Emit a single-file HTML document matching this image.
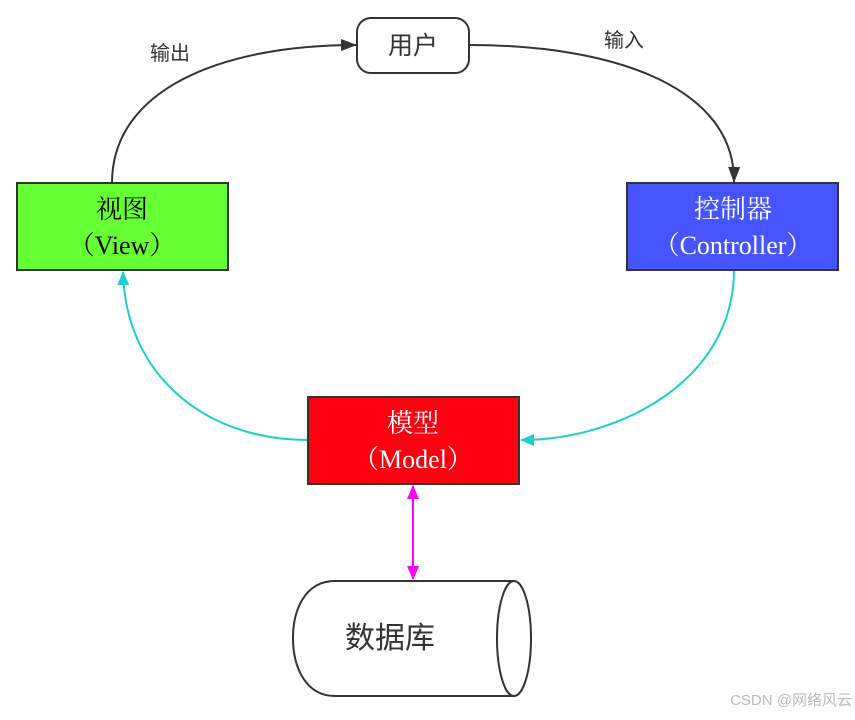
<!DOCTYPE html>
<html><head><meta charset="utf-8"><style>
body{margin:0;background:#fff;width:855px;height:715px;overflow:hidden}
text{font-family:"Liberation Sans","Noto Sans CJK SC",sans-serif}
.s{font-family:"Liberation Serif","Noto Serif CJK SC",serif}
</style></head><body>
<svg width="855" height="715" viewBox="0 0 855 715">
<defs>
<marker id="ab" markerWidth="16" markerHeight="12" refX="15" refY="6" orient="auto" markerUnits="userSpaceOnUse"><path d="M0,0 L16,6 L0,12 z" fill="#333"/></marker>
<marker id="ac" markerWidth="14" markerHeight="12" refX="13" refY="6" orient="auto" markerUnits="userSpaceOnUse"><path d="M0,0 L14,6 L0,12 z" fill="#1ccfcf"/></marker>
<marker id="am" markerWidth="14" markerHeight="12" refX="13" refY="6" orient="auto-start-reverse" markerUnits="userSpaceOnUse"><path d="M0,0 L14,6 L0,12 z" fill="#ff00ff"/></marker>
</defs>
<path d="M112,183 C112,90 220,45 356,45" fill="none" stroke="#333" stroke-width="2" marker-end="url(#ab)"/>
<path d="M469,45 C620,45 735,90 734,182" fill="none" stroke="#333" stroke-width="2" marker-end="url(#ab)"/>
<path d="M308,440 C200,440 125,370 123,272" fill="none" stroke="#1ccfcf" stroke-width="2" marker-end="url(#ac)"/>
<path d="M734,270 C734,380 620,440 521,440" fill="none" stroke="#1ccfcf" stroke-width="2" marker-end="url(#ac)"/>
<line x1="413" y1="486" x2="413" y2="579" stroke="#ff00ff" stroke-width="2" marker-start="url(#am)" marker-end="url(#am)"/>
<rect x="357" y="18" width="112" height="55" rx="14" fill="#fff" stroke="#333" stroke-width="2"/>
<text x="413" y="54" font-size="25" text-anchor="middle" fill="#333">用户</text>
<text x="170" y="60" font-size="20" text-anchor="middle" fill="#333">输出</text>
<text x="624" y="47" font-size="20" text-anchor="middle" fill="#333">输入</text>
<rect x="17" y="183" width="211" height="87" fill="#66ff33" stroke="#333" stroke-width="2"/>
<text x="122" y="218" font-size="26" text-anchor="middle" class="s" fill="#000">视图</text>
<text x="122" y="254" font-size="26" text-anchor="middle" class="s" fill="#000">（View）</text>
<rect x="627" y="183" width="211" height="87" fill="#4554ff" stroke="#333" stroke-width="2"/>
<text x="733" y="218" font-size="26" text-anchor="middle" class="s" fill="#fff">控制器</text>
<text x="733" y="254" font-size="26" text-anchor="middle" class="s" fill="#fff">（Controller）</text>
<rect x="308" y="397" width="211" height="87" fill="#ff0010" stroke="#333" stroke-width="2"/>
<text x="413" y="432" font-size="26" text-anchor="middle" class="s" fill="#fff">模型</text>
<text x="413" y="468" font-size="26" text-anchor="middle" class="s" fill="#fff">（Model）</text>
<path d="M515,581 L335,581 C305,581 293,610 293,638 C293,666 305,696 335,696 L515,696" fill="#fff" stroke="#333" stroke-width="2"/>
<ellipse cx="514" cy="638.5" rx="17" ry="57.5" fill="#fff" stroke="#333" stroke-width="2"/>
<text x="390" y="648" font-size="30" text-anchor="middle" fill="#333">数据库</text>
<text x="852" y="705" font-size="15" text-anchor="end" fill="#bbb">CSDN @网络风云</text>
</svg>
</body></html>
